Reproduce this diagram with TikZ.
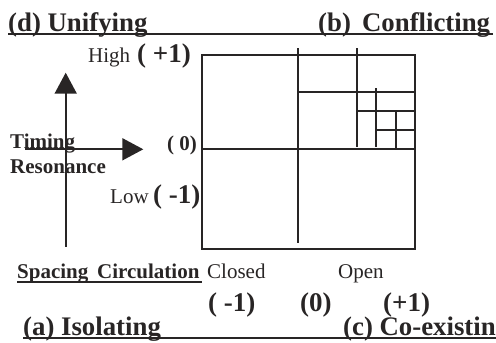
\documentclass[tikz,border=0pt]{standalone}
\usepackage{fontspec}
\setmainfont{Liberation Serif}
\usetikzlibrary{arrows.meta}
\definecolor{ink}{RGB}{40,37,37}
\begin{document}
\begin{tikzpicture}[x=1pt,y=-1pt,
  lbl/.style={inner sep=0pt,anchor=base west,text=ink},
  title/.style={lbl,font=\fontsize{26.8}{30}\selectfont\bfseries},
  num/.style={lbl,font=\fontsize{27}{30}\selectfont\bfseries},
  reg/.style={lbl,font=\fontsize{21}{25}\selectfont},
  bld/.style={lbl,font=\fontsize{21}{25}\selectfont\bfseries},
  grid/.style={draw=ink,line width=1.7pt},
  rule/.style={draw=ink,line width=1.5pt},
  axis/.style={draw=ink,line width=1.8pt,-{Triangle[width=22pt,length=21pt]}}]
\useasboundingbox (0,0) rectangle (496,343);
% titles
\node[title] (d) at (8,31) {(d) Unifying};
\node[title] (b) at (318,31) {(b)\, Conflicting};
\node[title] (a) at (23,335) {(a) Isolating};
\node[title] (c) at (343,335) {(c) Co-existing};
\coordinate (tl) at (8,34); \coordinate (tr) at (493,34);
\coordinate (bl) at (23,338); \coordinate (br) at (496,338);
\draw[rule] (tl) -- (tr);
\draw[rule] (bl) -- (br);
% y labels
\node[reg] (high) at (88,62) {High};
\node[num] (hp) at (137,62) {( +1)};
\node[bld] (zero) at (167,150) {( 0)};
\node[reg] (low) at (110,203) {Low};
\node[num] (lm) at (153,203) {( -1)};
\node[bld] (timing) at (10,148) {Timing};
\node[bld] (reson) at (10,173) {Resonance};
% x labels
\node[bld] (spc) at (17,278) {Spacing\, Circulation};
\coordinate (ul) at (17,282); \coordinate (ur) at (202,282);
\draw[draw=ink,line width=1.2pt] (ul) -- (ur);
\node[reg] (closed) at (207,278) {Closed};
\node[reg] (open) at (338,278) {Open};
\node[num] (xm) at (208,311) {( -1)};
\node[num] (x0) at (300,311) {(0)};
\node[num] (xp) at (383,311) {(+1)};
% axes
\coordinate (vb) at (65.7,246.7); \coordinate (vt) at (65.7,72.7);
\coordinate (hl) at (25,149.3); \coordinate (hr) at (143.3,149.3);
\draw[axis] (vb) -- (vt);
\draw[axis] (hl) -- (hr);
% box
\draw[grid] (202,55) rectangle (415,249);
\draw[grid] (298,48) -- (298,243);
\draw[grid] (357,48) -- (357,147);
\draw[grid] (202,149) -- (415,149);
\draw[grid] (298,92) -- (415,92);
\draw[grid] (376,88) -- (376,147);
\draw[grid] (357,111) -- (415,111);
\draw[grid] (396,111) -- (396,149);
\draw[grid] (376,130) -- (415,130);
\end{tikzpicture}
\end{document}
